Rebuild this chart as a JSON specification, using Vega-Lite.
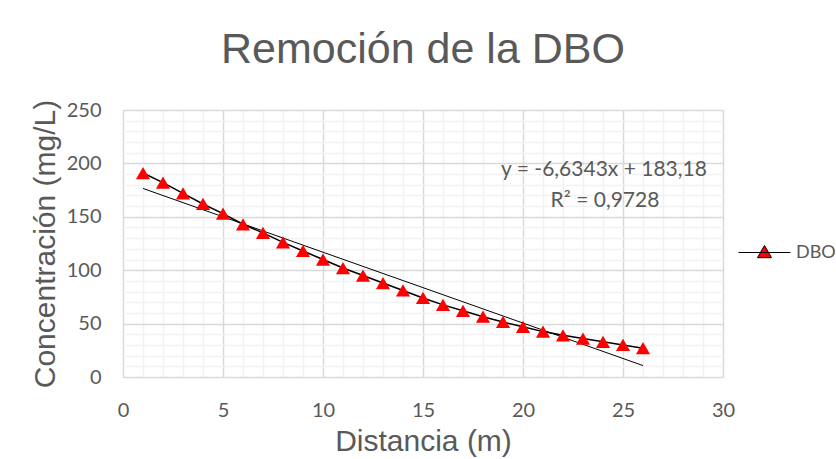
{
  "$schema": "https://vega.github.io/schema/vega-lite/v6.json",
  "width": 600,
  "height": 267,
  "autosize": "none",
  "padding": {"left": 123, "top": 110, "right": 113, "bottom": 82},
  "background": "white",
  "config": {"view": {"stroke": null}, "font": "Liberation Sans"},
  "title": {"text": "Remoción de la DBO", "fontSize": 43, "font": "Liberation Sans", "fontWeight": "normal", "color": "#595959", "anchor": "middle", "offset": 27},
  "datasets": {
    "dbo": [
      {"distancia": 1, "concentracion": 191},
      {"distancia": 2, "concentracion": 182},
      {"distancia": 3, "concentracion": 172},
      {"distancia": 4, "concentracion": 162},
      {"distancia": 5, "concentracion": 153},
      {"distancia": 6, "concentracion": 143},
      {"distancia": 7, "concentracion": 135},
      {"distancia": 8, "concentracion": 126},
      {"distancia": 9, "concentracion": 118},
      {"distancia": 10, "concentracion": 110},
      {"distancia": 11, "concentracion": 102},
      {"distancia": 12, "concentracion": 95},
      {"distancia": 13, "concentracion": 88},
      {"distancia": 14, "concentracion": 81},
      {"distancia": 15, "concentracion": 74},
      {"distancia": 16, "concentracion": 67.5},
      {"distancia": 17, "concentracion": 62},
      {"distancia": 18, "concentracion": 56.5},
      {"distancia": 19, "concentracion": 51.5},
      {"distancia": 20, "concentracion": 47},
      {"distancia": 21, "concentracion": 42.5},
      {"distancia": 22, "concentracion": 39},
      {"distancia": 23, "concentracion": 36},
      {"distancia": 24, "concentracion": 33},
      {"distancia": 25, "concentracion": 30},
      {"distancia": 26, "concentracion": 27}
    ],
    "trend": [
      {"distancia": 1, "concentracion": 176.55},
      {"distancia": 26, "concentracion": 10.69}
    ],
    "eq": [
      {"distancia": 24.05, "concentracion": 193.5, "texto": "y = -6,6343x + 183,18"},
      {"distancia": 24.1, "concentracion": 164.5, "texto": "R² = 0,9728"}
    ]
  },
  "encoding": {
    "x": {
      "field": "distancia", "type": "quantitative",
      "scale": {"domain": [0, 30], "nice": false},
      "axis": {
        "values": [0,1,2,3,4,5,6,7,8,9,10,11,12,13,14,15,16,17,18,19,20,21,22,23,24,25,26,27,28,29,30],
        "title": "Distancia (m)",
        "grid": true,
        "gridColor": {"condition": {"test": "datum.value % 5 === 0", "value": "#d9d9d9"}, "value": "#f2f2f2"},
        "gridWidth": 1.5,
        "ticks": false, "domain": false,
        "labelFlush": false, "labelOverlap": false,
        "labelExpr": "datum.value % 5 === 0 ? datum.label : ''",
        "labelFont": "Lato", "labelFontSize": 20, "labelColor": "#595959", "labelPadding": 23,
        "titleFont": "Liberation Sans", "titleFontSize": 30, "titleFontWeight": "normal", "titleColor": "#595959", "titlePadding": 6
      }
    },
    "y": {
      "field": "concentracion", "type": "quantitative",
      "scale": {"domain": [0, 250], "nice": false},
      "axis": {
        "values": [0,10,20,30,40,50,60,70,80,90,100,110,120,130,140,150,160,170,180,190,200,210,220,230,240,250],
        "title": "Concentración (mg/L)",
        "grid": true,
        "gridColor": {"condition": {"test": "datum.value % 50 === 0", "value": "#d9d9d9"}, "value": "#f2f2f2"},
        "gridWidth": 1.5,
        "ticks": false, "domain": false,
        "labelFlush": false, "labelOverlap": false,
        "labelExpr": "datum.value % 50 === 0 ? datum.label : ''",
        "labelFont": "Lato", "labelFontSize": 20, "labelColor": "#595959", "labelPadding": 22,
        "titleFont": "Liberation Sans", "titleFontSize": 30, "titleFontWeight": "normal", "titleColor": "#595959", "titlePadding": 6
      }
    }
  },
  "layer": [
    {"data": {"name": "trend"}, "mark": {"type": "line", "color": "black", "strokeWidth": 1}},
    {"data": {"name": "dbo"}, "mark": {"type": "line", "color": "black", "strokeWidth": 1.5}},
    {
      "data": {"name": "dbo"},
      "mark": {"type": "point", "shape": "triangle-up", "filled": true, "size": 200, "opacity": 1},
      "encoding": {
        "fill": {
          "datum": "DBO",
          "scale": {"range": ["#ff0000"]},
          "legend": {
            "orient": "none", "legendX": 615, "legendY": 116, "title": null,
            "symbolType": "M-1,0H1M0,-0.27L0.27,0.2L-0.27,0.2Z",
            "symbolSize": 2704, "symbolStrokeColor": "black", "symbolStrokeWidth": 1,
            "labelFont": "Lato", "labelFontSize": 18, "labelColor": "#595959", "labelOffset": 5
          }
        }
      }
    },
    {
      "data": {"name": "eq"},
      "mark": {"type": "text", "font": "Lato", "fontSize": 21, "color": "#595959", "align": "center", "baseline": "middle"},
      "encoding": {"text": {"field": "texto"}}
    }
  ]
}
